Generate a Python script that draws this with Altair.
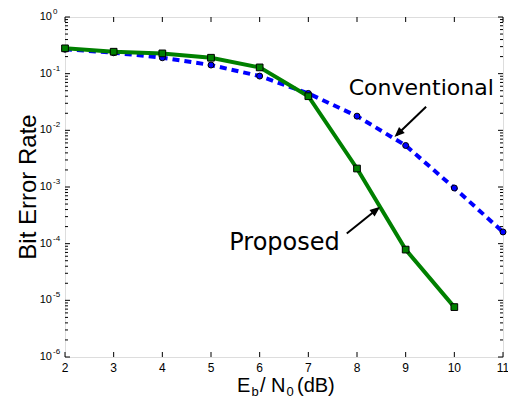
import altair as alt
import pandas as pd

# ---- data ----
snr_conv = [2, 3, 4, 5, 6, 7, 8, 9, 10, 11]
ber_conv = [0.27, 0.234, 0.191, 0.142, 0.0907, 0.0448, 0.0178, 0.0054, 9.6e-4, 1.61e-4]
snr_prop = [2, 3, 4, 5, 6, 7, 8, 9, 10]
ber_prop = [0.28, 0.244, 0.228, 0.191, 0.129, 0.040, 2.12e-3, 7.86e-5, 7.6e-6]
x_ticks = [2, 3, 4, 5, 6, 7, 8, 9, 10, 11]
decade_exp = [0, -1, -2, -3, -4, -5, -6]
decade_sup = ["0", "-1", "-2", "-3", "-4", "-5", "-6"]

W, H = 438, 340
FONT = "Liberation Sans"
ANN_FONT = "DejaVu Sans"

xs = alt.Scale(domain=[2, 11], nice=False, zero=False)
ys = alt.Scale(type="log", domain=[1e-6, 1], nice=False)

conv = pd.DataFrame({"snr": snr_conv, "ber": ber_conv})
prop = pd.DataFrame({"snr": snr_prop, "ber": ber_prop})
major = pd.DataFrame({"v": [10.0 ** e for e in decade_exp], "sup": decade_sup})
minor = pd.DataFrame({"v": [k * 10.0 ** d for d in range(-6, 0) for k in range(2, 10)]})
xt = pd.DataFrame({"snr": x_ticks, "lab": [str(t) for t in x_ticks]})
one = pd.DataFrame({"t": [0]})

X = alt.X("snr:Q", scale=xs, axis=None)
Y = alt.Y("ber:Q", scale=ys, axis=None)
YV = alt.Y("v:Q", scale=ys, axis=None)

layers = []

# inward ticks
layers.append(alt.Chart(major).mark_rule(color="black", strokeWidth=1).encode(
    y=YV, x=alt.value(0), x2=alt.value(5)))
layers.append(alt.Chart(major).mark_rule(color="black", strokeWidth=1).encode(
    y=YV, x=alt.value(W - 5), x2=alt.value(W)))
layers.append(alt.Chart(minor).mark_rule(color="black", strokeWidth=1).encode(
    y=YV, x=alt.value(0), x2=alt.value(3)))
layers.append(alt.Chart(minor).mark_rule(color="black", strokeWidth=1).encode(
    y=YV, x=alt.value(W - 3), x2=alt.value(W)))
layers.append(alt.Chart(xt).mark_rule(color="black", strokeWidth=1).encode(
    x=X, y=alt.value(H - 5), y2=alt.value(H)))
layers.append(alt.Chart(xt).mark_rule(color="black", strokeWidth=1).encode(
    x=X, y=alt.value(0), y2=alt.value(5)))

# tick labels
layers.append(alt.Chart(xt).mark_text(font=FONT, fontSize=12, baseline="alphabetic",
                                      align="center", color="black").encode(
    x=X, y=alt.value(H + 15), text="lab:N"))
layers.append(alt.Chart(major).mark_text(font=FONT, fontSize=11, baseline="middle",
                                         align="right", color="black").encode(
    y=YV, x=alt.value(-13), text=alt.value("10")))
layers.append(alt.Chart(major).mark_text(font=FONT, fontSize=8, baseline="middle",
                                         align="left", dy=-5, color="black").encode(
    y=YV, x=alt.value(-12), text="sup:N"))

# data series
layers.append(alt.Chart(conv).mark_line(color="#0000ff", strokeWidth=4,
                                        strokeDash=[7, 5]).encode(x=X, y=Y))
layers.append(alt.Chart(conv).mark_point(shape="circle", filled=True, fill="#0000ff",
                                         stroke="black", strokeWidth=1, size=36,
                                         opacity=1).encode(x=X, y=Y))
layers.append(alt.Chart(prop).mark_line(color="#008000", strokeWidth=4).encode(x=X, y=Y))
layers.append(alt.Chart(prop).mark_point(shape="square", filled=True, fill="#008000",
                                         stroke="black", strokeWidth=1, size=45,
                                         opacity=1).encode(x=X, y=Y))

# annotations
ann_text = pd.DataFrame({"snr": [9.32, 6.51], "ber": [0.055, 1.03e-4],
                         "lab": ["Conventional", "Proposed"], "fs": [22, 24]})
layers.append(alt.Chart(ann_text).mark_text(font=ANN_FONT, baseline="middle",
                                            align="center", color="black").encode(
    x=X, y=Y, text="lab:N", size=alt.Size("fs:Q", scale=None, legend=None)))
arrows = pd.DataFrame({"snr": [9.42, 7.79], "ber": [0.026, 1.51e-4],
                       "snr2": [8.81, 8.43], "ber2": [0.00822, 4.17e-4],
                       "ang": [226.6, 51.7]})
layers.append(alt.Chart(arrows).mark_rule(color="black", strokeWidth=2).encode(
    x=X, y=Y, x2="snr2:Q", y2="ber2:Q"))
layers.append(alt.Chart(arrows).mark_point(shape="M0,0L-0.45,1.1L0.45,1.1Z", filled=True,
                                           fill="black", stroke="black", size=140,
                                           opacity=1).encode(
    x=alt.X("snr2:Q", scale=xs, axis=None), y=alt.Y("ber2:Q", scale=ys, axis=None),
    angle=alt.Angle("ang:Q", scale=None)))

# axis titles
layers.append(alt.Chart(one).mark_text(font=FONT, fontSize=24, angle=270, align="center",
                                       baseline="middle", color="black").encode(
    x=alt.value(-36), y=alt.value(H / 2), text=alt.value("Bit Error Rate")))
x0 = 172
segs = [("E", 0, 20, 0), ("b", 14.5, 13, 4), ("/ N", 23, 20, 0),
        ("0", 49.5, 13, 4), ("(dB)", 60, 20, 0)]
for txt, dx, fs, dyy in segs:
    layers.append(alt.Chart(one).mark_text(font=FONT, fontSize=fs, align="left",
                                           baseline="alphabetic", color="black").encode(
        x=alt.value(x0 + dx), y=alt.value(H + 35 + dyy), text=alt.value(txt)))

chart = alt.layer(*layers).properties(
    width=W, height=H,
    autosize=alt.AutoSizeParams(type="none"),
    padding={"left": 57, "top": 9, "right": 5, "bottom": 43},
).configure_view(stroke="black", strokeWidth=1.5).configure(background="white")

chart.save("out.html", embed_options={"renderer": "svg", "actions": False})
